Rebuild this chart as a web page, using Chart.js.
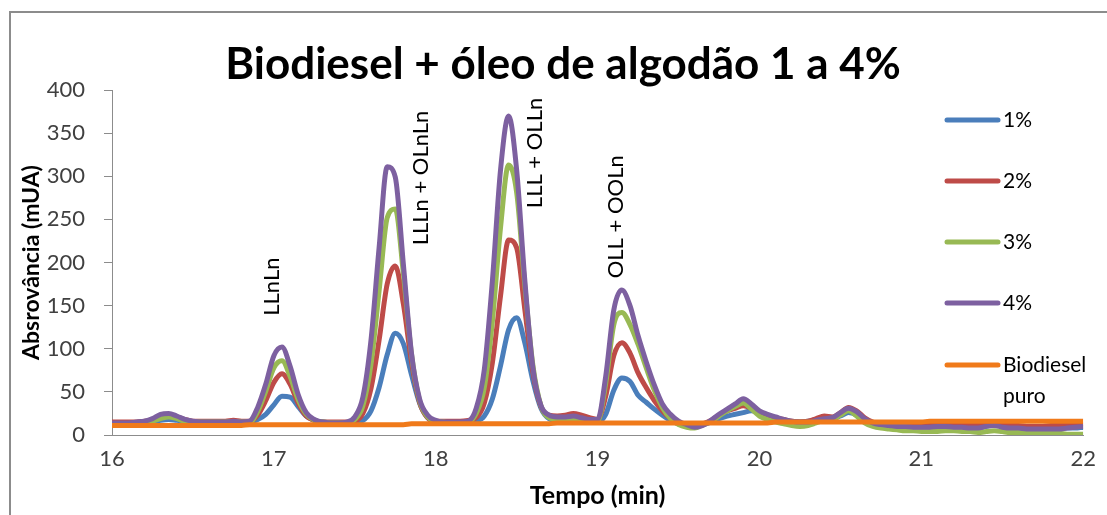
<!DOCTYPE html>
<html>
<head>
<meta charset="utf-8">
<script src="https://cdn.jsdelivr.net/npm/chart.js@4"></script>
<style>
  html, body { margin: 0; padding: 0; background: #fff; }
  #wrap { position: relative; width: 1107px; height: 515px; overflow: hidden; }
  #frame { position: absolute; left: 9px; top: 11px; width: 1120px; height: 540px; border: 2px solid #8c8c8c; }
  #chart { position: absolute; left: 0; top: 0; }
</style>
</head>
<body>
<div id="wrap">
  <div id="frame"></div>
  <canvas id="chart" width="1107" height="515"></canvas>
</div>
<script>
// Tempo (min) - sampling grid
const tempo = [
    16.00, 16.05, 16.10, 16.15, 16.20, 16.25, 16.30, 16.35, 16.40, 16.45,
    16.50, 16.55, 16.60, 16.65, 16.70, 16.75, 16.80, 16.85, 16.90, 16.95,
    17.00, 17.05, 17.10, 17.15, 17.20, 17.25, 17.30, 17.35, 17.40, 17.45,
    17.50, 17.55, 17.60, 17.65, 17.70, 17.75, 17.80, 17.85, 17.90, 17.95,
    18.00, 18.05, 18.10, 18.15, 18.20, 18.25, 18.30, 18.35, 18.40, 18.45,
    18.50, 18.55, 18.60, 18.65, 18.70, 18.75, 18.80, 18.85, 18.90, 18.95,
    19.00, 19.05, 19.10, 19.15, 19.20, 19.25, 19.30, 19.35, 19.40, 19.45,
    19.50, 19.55, 19.60, 19.65, 19.70, 19.75, 19.80, 19.85, 19.90, 19.95,
    20.00, 20.05, 20.10, 20.15, 20.20, 20.25, 20.30, 20.35, 20.40, 20.45,
    20.50, 20.55, 20.60, 20.65, 20.70, 20.75, 20.80, 20.85, 20.90, 20.95,
    21.00, 21.05, 21.10, 21.15, 21.20, 21.25, 21.30, 21.35, 21.40, 21.45,
    21.50, 21.55, 21.60, 21.65, 21.70, 21.75, 21.80, 21.85, 21.90, 21.95, 22.00
];

// Absorbance (mUA) for each series
const serie1 = [
    14, 14, 14, 14, 15, 15, 17, 18, 17, 16,
    15, 15, 15, 15, 15, 15, 15, 15, 18, 24,
    35, 45, 44, 33, 22, 17, 15, 14, 14, 14,
    15, 17, 28, 55, 93, 118, 106, 70, 37, 20,
    15, 15, 15, 15, 15, 16, 22, 42, 80, 122,
    136, 107, 63, 31, 19, 17, 18, 19, 19, 17,
    15, 24, 52, 66, 62, 46, 38, 30, 23, 17,
    13, 11, 10, 12, 15, 19, 22, 24, 26, 28,
    25, 21, 18, 16, 15, 15, 16, 18, 19, 19,
    22, 26, 23, 17, 13, 11, 10, 9, 9, 8,
    8, 8, 9, 9, 8, 8, 7, 8, 10, 12,
    10, 8, 8, 7, 7, 7, 7, 8, 8, 8, 9
];
const serie2 = [
    15, 15, 15, 15, 16, 17, 20, 22, 21, 18,
    16, 16, 16, 16, 16, 17, 16, 16, 23, 40,
    61, 71, 59, 37, 22, 17, 15, 15, 15, 15,
    16, 25, 54, 110, 175, 196, 152, 85, 38, 20,
    16, 16, 16, 16, 17, 20, 37, 84, 161, 226,
    217, 146, 73, 33, 23, 22, 23, 25, 23, 20,
    18, 45, 92, 107, 95, 72, 55, 40, 28, 19,
    14, 11, 10, 13, 17, 23, 28, 31, 34, 31,
    26, 22, 20, 18, 16, 15, 16, 19, 22, 21,
    26, 32, 28, 20, 15, 13, 12, 11, 11, 11,
    11, 11, 12, 12, 12, 11, 11, 11, 12, 12,
    11, 11, 11, 10, 10, 10, 11, 11, 12, 12, 13
];
const serie3 = [
    13, 13, 13, 13, 14, 16, 19, 21, 19, 16,
    15, 15, 15, 15, 15, 15, 15, 15, 27, 51,
    78, 86, 68, 41, 24, 17, 15, 14, 14, 14,
    18, 34, 82, 167, 252, 262, 187, 94, 40, 21,
    16, 15, 14, 14, 15, 25, 55, 132, 240, 313,
    281, 174, 81, 34, 20, 18, 18, 19, 18, 17,
    16, 60, 128, 142, 128, 105, 78, 52, 32, 19,
    12, 9, 8, 12, 16, 22, 28, 33, 37, 30,
    22, 18, 15, 13, 11, 10, 11, 14, 17, 18,
    23, 28, 22, 14, 10, 8, 7, 6, 5, 5,
    4, 4, 4, 5, 5, 4, 4, 3, 4, 5,
    4, 3, 3, 2, 2, 2, 2, 2, 1, 1, 1
];
const serie4 = [
    14, 14, 14, 15, 16, 19, 24, 25, 22, 18,
    16, 15, 15, 15, 15, 16, 15, 16, 32, 59,
    92, 102, 80, 47, 26, 18, 15, 14, 14, 15,
    21, 44, 110, 217, 311, 299, 198, 95, 42, 23,
    17, 15, 15, 15, 16, 31, 76, 179, 307, 370,
    307, 180, 78, 34, 23, 21, 21, 22, 20, 18,
    18, 68, 145, 168, 150, 115, 85, 58, 36, 24,
    16, 12, 9, 11, 17, 24, 30, 36, 42, 36,
    28, 24, 21, 18, 16, 15, 15, 17, 19, 20,
    26, 31, 27, 19, 14, 12, 11, 10, 10, 9,
    9, 9, 10, 10, 9, 9, 8, 8, 10, 11,
    9, 8, 8, 7, 7, 7, 7, 7, 8, 9, 10
];
const biodieselPuro = [
    11, 11, 11, 11, 11, 11, 11, 11, 11, 11,
    11, 11, 11, 11, 11, 11, 11, 12, 12, 12,
    12, 12, 12, 12, 12, 12, 12, 12, 12, 12,
    12, 12, 12, 12, 12, 12, 12, 13, 13, 13,
    13, 13, 13, 13, 13, 13, 13, 13, 13, 13,
    13, 13, 13, 13, 13, 14, 14, 14, 14, 14,
    14, 14, 14, 14, 14, 14, 14, 14, 14, 14,
    14, 14, 14, 14, 14, 14, 14, 14, 14, 14,
    14, 14, 15, 15, 15, 15, 15, 15, 15, 15,
    15, 15, 15, 15, 15, 15, 15, 15, 15, 15,
    15, 16, 16, 16, 16, 16, 16, 16, 16, 16,
    16, 16, 16, 16, 16, 16, 16, 16, 16, 16, 16
];

const seriesNames = ['1%', '2%', '3%', '4%', 'Biodiesel puro'];
const seriesColors = ['#4a7ebb', '#be4b48', '#98b954', '#7d60a0', '#f07a1a'];
const seriesValues = [serie1, serie2, serie3, serie4, biodieselPuro];

// peak annotations (text) and where they sit (tempo, mUA)
const peakNames = ['LLnLn', 'LLLn + OLnLn', 'LLL + OLLn', 'OLL + OOLn'];
const peakAt = [[16.99, 172], [17.91, 298], [18.61, 327], [19.11, 253]];

const chartTitle = 'Biodiesel + óleo de algodão 1 a 4%';
const FONT = 'Lato, "Open Sans", sans-serif';

// Draw title, legend and peak labels on the canvas
const extrasPlugin = {
    id: 'extras',
    afterDraw(chart) {
        const ctx = chart.ctx;
        const xs = chart.scales.x;
        const ys = chart.scales.y;
        ctx.save();

        // title
        ctx.fillStyle = '#000';
        ctx.font = 'bold 44px ' + FONT;
        ctx.textAlign = 'center';
        ctx.textBaseline = 'middle';
        ctx.fillText(chartTitle, 563, 65);

        // peak labels, vertical
        ctx.font = '22px ' + FONT;
        peakNames.forEach((name, i) => {
            const px = xs.getPixelForValue(peakAt[i][0]);
            const py = ys.getPixelForValue(peakAt[i][1]);
            ctx.save();
            ctx.translate(px, py);
            ctx.rotate(-Math.PI / 2);
            ctx.fillText(name, 0, 0);
            ctx.restore();
        });

        // legend
        ctx.font = '21px ' + FONT;
        ctx.textAlign = 'left';
        ctx.lineCap = 'round';
        ctx.lineWidth = 5;
        const legendY = [120, 181, 242, 303, 365];
        seriesNames.forEach((name, i) => {
            const y = legendY[i];
            ctx.strokeStyle = seriesColors[i];
            ctx.beginPath();
            ctx.moveTo(947, y);
            ctx.lineTo(998, y);
            ctx.stroke();
            ctx.fillStyle = '#000';
            name.split(' ').forEach((word, j) => {
                ctx.fillText(word, 1003, y + j * 31);
            });
        });
        ctx.restore();
    }
};

const datasets = seriesValues.map((values, i) => {
    return {
        label: seriesNames[i],
        data: tempo.map((t, j) => ({ x: t, y: values[j] })),
        borderColor: seriesColors[i],
        backgroundColor: seriesColors[i],
        borderWidth: 5,
        pointRadius: 0,
        fill: false,
        cubicInterpolationMode: 'monotone',
        order: seriesValues.length - i,
    };
});
// orange baseline sits on top of everything
datasets[4].order = 0;

const ctx = document.getElementById('chart').getContext('2d');
const lineChart = new Chart(ctx, {
    type: 'line',
    data: { datasets: datasets },
    plugins: [extrasPlugin],
    options: {
        responsive: false,
        animation: false,
        layout: { padding: { left: 0, right: 17, top: 90, bottom: 0 } },
        plugins: {
            legend: { display: false },
            title: { display: false },
            tooltip: { enabled: false },
        },
        scales: {
            x: {
                type: 'linear',
                min: 16,
                max: 22,
                ticks: { stepSize: 1, color: '#404040', font: { family: FONT, size: 22 }, padding: 11, maxRotation: 0 },
                grid: { drawOnChartArea: false, drawTicks: false, color: '#8c8c8c' },
                border: { color: '#8c8c8c', width: 1 },
                title: {
                    display: true,
                    text: 'Tempo (min)',
                    color: '#000',
                    font: { family: FONT, size: 25, weight: 'bold' },
                    padding: { top: 0, bottom: 4 },
                },
                afterFit(scale) { scale.height = 80; },
            },
            y: {
                min: 0,
                max: 400,
                ticks: { stepSize: 50, color: '#404040', font: { family: FONT, size: 22 }, padding: 19 },
                grid: { drawOnChartArea: false, drawTicks: true, tickLength: 8, color: '#8c8c8c' },
                border: { color: '#8c8c8c', width: 1 },
                title: {
                    display: true,
                    text: 'Absrovância (mUA)',
                    color: '#000',
                    font: { family: FONT, size: 23, weight: 'bold' },
                    padding: { top: 18, bottom: 0 },
                },
                afterFit(scale) { scale.width = 112; },
            },
        },
    },
});
</script>
</body>
</html>
